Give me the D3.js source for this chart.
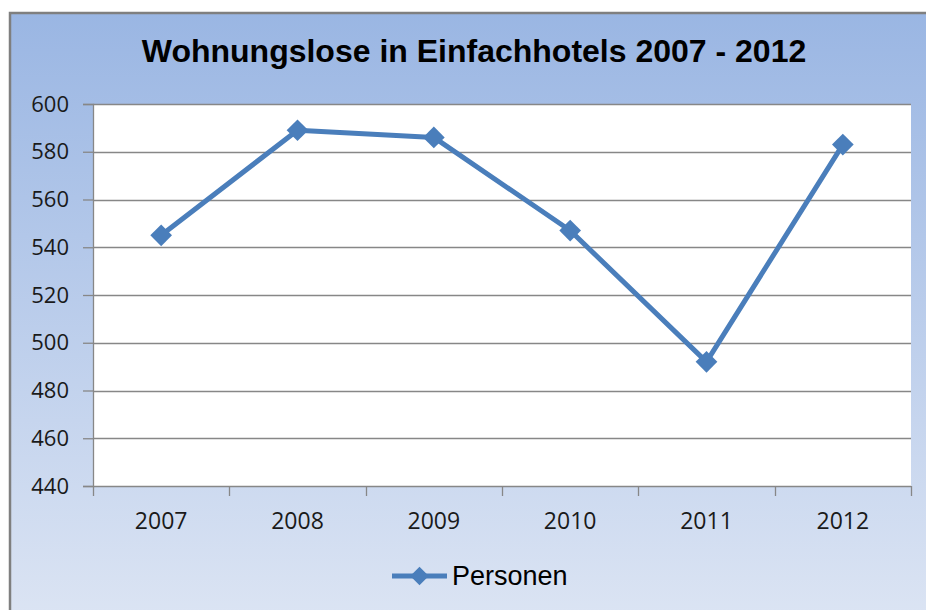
<!DOCTYPE html>
<html>
<head>
<meta charset="utf-8">
<script src="https://cdn.jsdelivr.net/npm/d3@7"></script>
<style>
  html, body { margin: 0; padding: 0; background: #ffffff; }
  svg { display: block; }
</style>
</head>
<body>
<svg id="chart" width="926" height="610"></svg>
<script>
// Homeless people housed in basic hotels, per year
const years = ["2007", "2008", "2009", "2010", "2011", "2012"];
const persons = [545, 589, 586, 547, 492, 583];
const yTicks = [440, 460, 480, 500, 520, 540, 560, 580, 600];
const titleText = "Wohnungslose in Einfachhotels 2007 - 2012";
const seriesName = "Personen";

const svg = d3.select("#chart");
const W = 926, H = 610;
const lineColor = "#4a7ebb";
const axisColor = "#878787";

// Chart frame with vertical gradient
const defs = svg.append("defs");
const grad = defs.append("linearGradient")
  .attr("id", "bg").attr("x1", 0).attr("y1", 0).attr("x2", 0).attr("y2", 1);
grad.append("stop").attr("offset", "0%").attr("stop-color", "#9ab6e3");
grad.append("stop").attr("offset", "100%").attr("stop-color", "#dee6f4");

svg.append("rect")
  .attr("x", 10).attr("y", 13)
  .attr("width", W + 20).attr("height", H + 20)
  .attr("fill", "url(#bg)")
  .attr("stroke", "#7f7f7f").attr("stroke-width", 2.5);

// Plot area
const plot = { left: 93, right: 911, top: 104, bottom: 486 };

svg.append("rect")
  .attr("x", plot.left).attr("y", plot.top)
  .attr("width", plot.right - plot.left).attr("height", plot.bottom - plot.top)
  .attr("fill", "#ffffff");

const x = d3.scaleBand().domain(years).range([plot.left, plot.right]).padding(0);
const y = d3.scaleLinear().domain([440, 600]).range([plot.bottom, plot.top]);

// Horizontal gridlines
svg.append("g")
  .selectAll("line")
  .data(yTicks.filter(d => d !== 440))
  .join("line")
  .attr("x1", plot.left).attr("x2", plot.right)
  .attr("y1", d => Math.round(y(d)) + 0.5).attr("y2", d => Math.round(y(d)) + 0.5)
  .attr("stroke", axisColor).attr("stroke-width", 1.3);

// Y axis
const yAxis = svg.append("g")
  .attr("transform", `translate(${plot.left},0)`)
  .call(d3.axisLeft(y).tickValues(yTicks).tickSize(10).tickPadding(14).tickFormat(d3.format("d")));
yAxis.select(".domain").attr("stroke", axisColor).attr("stroke-width", 1.3);
yAxis.selectAll(".tick line").attr("stroke", axisColor).attr("stroke-width", 1.3);
yAxis.selectAll(".tick text")
  .attr("fill", "#1a1a1a")
  .style("font-family", "'Open Sans', sans-serif")
  .style("font-size", "22px");

// X axis: ticks at category boundaries
const xAxisG = svg.append("g").attr("transform", `translate(0,${plot.bottom})`);
xAxisG.append("line")
  .attr("x1", plot.left).attr("x2", plot.right)
  .attr("y1", 0.5).attr("y2", 0.5)
  .attr("stroke", axisColor).attr("stroke-width", 1.3);
const boundaries = years.map(d => x(d)).concat([x(years[years.length - 1]) + x.bandwidth()]);
xAxisG.selectAll("line.tick")
  .data(boundaries)
  .join("line")
  .attr("class", "tick")
  .attr("x1", d => Math.round(d) + 0.5).attr("x2", d => Math.round(d) + 0.5)
  .attr("y1", 0).attr("y2", 10)
  .attr("stroke", axisColor).attr("stroke-width", 1.3);
xAxisG.selectAll("text")
  .data(years)
  .join("text")
  .attr("x", d => x(d) + x.bandwidth() / 2)
  .attr("y", 43)
  .attr("text-anchor", "middle")
  .attr("fill", "#1a1a1a")
  .style("font-family", "'Open Sans', sans-serif")
  .style("font-size", "23px")
  .text(d => d);

// Data line
const pts = years.map((d, i) => [x(d) + x.bandwidth() / 2, y(persons[i])]);
svg.append("path")
  .attr("d", d3.line()(pts))
  .attr("fill", "none")
  .attr("stroke", lineColor)
  .attr("stroke-width", 5)
  .attr("stroke-linejoin", "round");

const diamond = d3.symbol().type(d3.symbolDiamond2).size(300);
svg.append("g")
  .selectAll("path")
  .data(pts)
  .join("path")
  .attr("transform", d => `translate(${d[0]},${d[1]})`)
  .attr("d", diamond)
  .attr("fill", lineColor);

// Title
svg.append("text")
  .attr("x", 474).attr("y", 62)
  .attr("text-anchor", "middle")
  .style("font-family", "'Liberation Sans', Arial, sans-serif")
  .style("font-weight", "bold")
  .style("font-size", "32px")
  .attr("fill", "#000000")
  .text(titleText);

// Legend
const lg = svg.append("g").attr("transform", "translate(392,576)");
lg.append("line")
  .attr("x1", 0).attr("x2", 55).attr("y1", 0).attr("y2", 0)
  .attr("stroke", lineColor).attr("stroke-width", 5);
lg.append("path")
  .attr("transform", "translate(27.5,0)")
  .attr("d", d3.symbol().type(d3.symbolDiamond2).size(220))
  .attr("fill", lineColor);
lg.append("text")
  .attr("x", 60).attr("y", 9)
  .style("font-family", "'Liberation Sans', Arial, sans-serif")
  .style("font-size", "27px")
  .attr("fill", "#000000")
  .text(seriesName);
</script>
</body>
</html>
